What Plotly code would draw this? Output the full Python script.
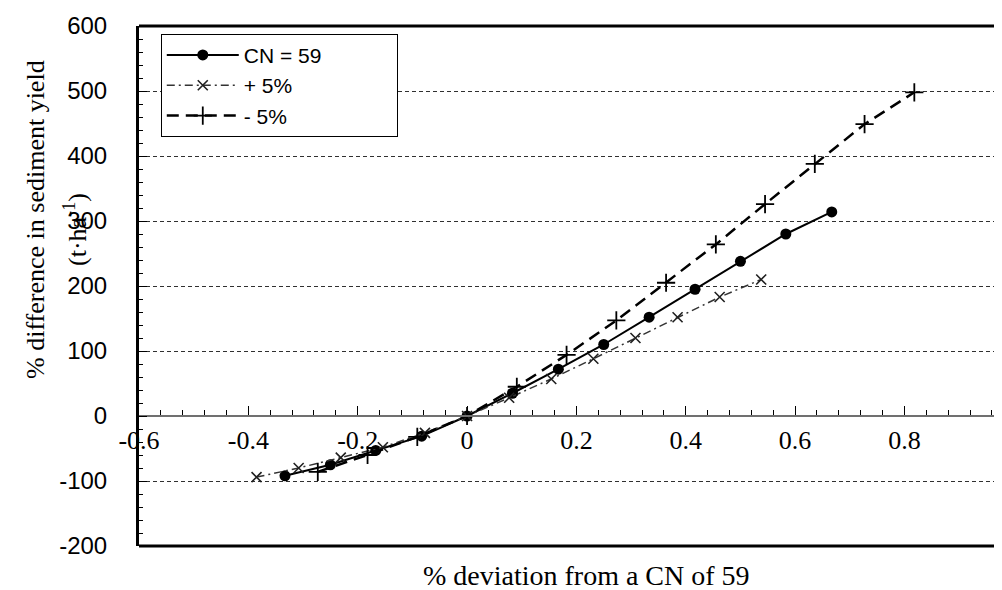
"""Sensitivity of sediment yield to CN deviation"""

import plotly.graph_objects as go

# data
cn_x = [-0.333, -0.25, -0.167, -0.083, 0, 0.083, 0.167, 0.25, 0.333, 0.417, 0.5, 0.583, 0.667]
cn_y = [-92, -75, -53, -31, 0, 35, 72, 110, 152, 195, 238, 280, 314]

plus5_x = [-0.385, -0.308, -0.231, -0.154, -0.077, 0, 0.077, 0.154, 0.231, 0.308, 0.385, 0.462, 0.538]
plus5_y = [-94, -80, -64, -48, -26, 0, 28, 57, 88, 120, 152, 183, 210]

minus5_x = [-0.273, -0.182, -0.091, 0, 0.091, 0.182, 0.273, 0.364, 0.455, 0.545, 0.636, 0.727, 0.818]
minus5_y = [-86, -60, -32, 0, 45, 94, 147, 205, 264, 326, 388, 449, 498]

series_names = ["CN = 59            ", "+ 5%", "- 5%"]
x_ticks = [-0.6, -0.4, -0.2, 0, 0.2, 0.4, 0.6, 0.8]
x_labels = ["-0.6", "-0.4", "-0.2", "0", "0.2", "0.4", "0.6", "0.8"]
y_ticks = [-200, -100, 0, 100, 200, 300, 400, 500, 600]
y_labels = ["-200", "-100", "0", "100", "200", "300", "400", "500", "600"]

SERIF = "Liberation Serif"
SANS = "Liberation Sans"

fig = go.Figure()
fig.add_trace(go.Scatter(
    x=cn_x, y=cn_y, name=series_names[0], mode="lines+markers",
    line=dict(color="black", width=2),
    marker=dict(symbol="circle", size=11, color="black")
))
fig.add_trace(go.Scatter(
    x=plus5_x, y=plus5_y, name=series_names[1], mode="lines+markers",
    line=dict(color="#333333", width=1.5, dash="8px,4px,2px,4px"),
    marker=dict(symbol="x-thin", size=10, line=dict(color="#202020", width=1.6))
))
fig.add_trace(go.Scatter(
    x=minus5_x, y=minus5_y, name=series_names[2], mode="lines+markers",
    line=dict(color="black", width=2.5, dash="12px,7px"),
    marker=dict(symbol="cross-thin", size=13, line=dict(color="black", width=1.8))
))

# plot frame (top and bottom borders)
for yp in (0, 1):
    fig.add_shape(type="line", xref="paper", yref="paper", x0=0, x1=1, y0=yp, y1=yp,
                  line=dict(color="black", width=3))

fig.add_annotation(text="% deviation from a CN of 59", xref="paper", yref="paper",
                   x=(578 - 131) / 871, y=(538 - 567) / 520, xanchor="center", yanchor="middle",
                   showarrow=False, font=dict(family=SERIF, size=28, color="black"))
fig.add_annotation(text="% difference in sediment yield", xref="paper", yref="paper",
                   x=(27 - 131) / 871, y=(538 - 212) / 520, textangle=-90,
                   xanchor="center", yanchor="middle", showarrow=False,
                   font=dict(family=SERIF, size=26, color="black"))
fig.add_annotation(text="(t·ha<sup>-1</sup>)", xref="paper", yref="paper",
                   x=(67 - 131) / 871, y=(538 - 222) / 520, textangle=-90,
                   xanchor="center", yanchor="middle", showarrow=False,
                   font=dict(family=SERIF, size=26, color="black"))

fig.update_layout(
    width=1002, height=590,
    margin=dict(l=131, r=0, t=18, b=52),
    plot_bgcolor="white", paper_bgcolor="white",
    legend=dict(x=0.025, y=0.985, xanchor="left", yanchor="top",
                bordercolor="black", borderwidth=1, bgcolor="white",
                itemwidth=72, tracegroupgap=0,
                font=dict(family=SANS, size=21, color="black")),
    xaxis=dict(
        range=[-0.6, 0.993], anchor="free", position=0.25,
        tickvals=x_ticks, ticktext=x_labels,
        ticks="inside", ticklen=9, tickwidth=1, tickcolor="black",
        minor=dict(dtick=0.04, tick0=0, ticks="inside", ticklen=5, tickcolor="black"),
        showline=True, linecolor="#707070", linewidth=1.5,
        showgrid=False, zeroline=False,
        ticklabelstandoff=1,
        tickfont=dict(family=SERIF, size=26, color="black")
    ),
    yaxis=dict(
        range=[-200, 600], tickvals=y_ticks, ticktext=y_labels,
        ticks="inside", ticklen=8, tickwidth=1, tickcolor="black",
        minor=dict(dtick=20, ticks="inside", ticklen=4, tickcolor="black"),
        showline=True, linecolor="black", linewidth=3,
        showgrid=True, gridcolor="#303030", gridwidth=1, griddash="4px,3px",
        zeroline=False,
        ticklabelstandoff=24,
        tickfont=dict(family=SANS, size=24, color="black")
    )
)

fig.write_html("out.html")
